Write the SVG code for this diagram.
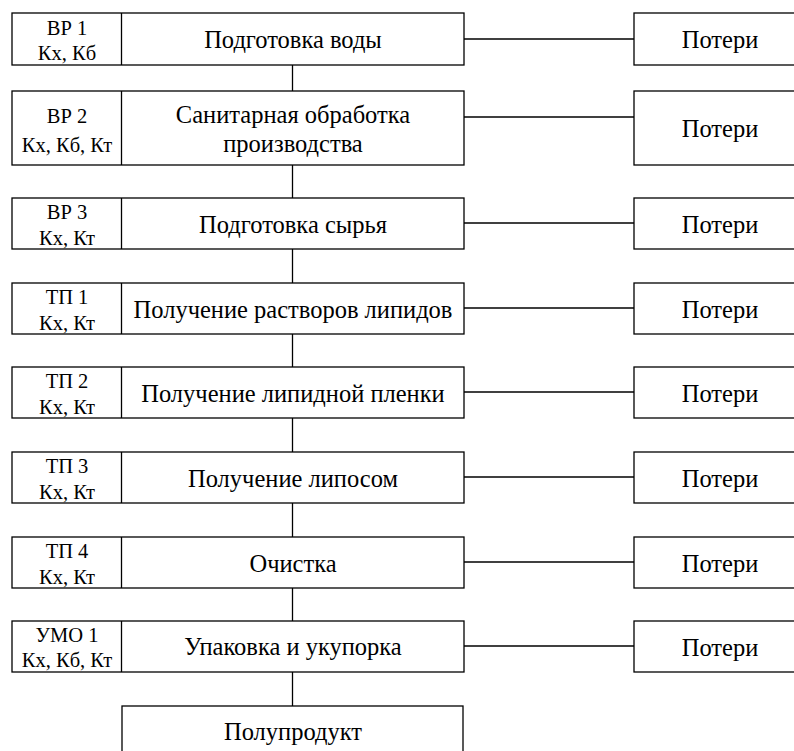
<svg xmlns="http://www.w3.org/2000/svg" width="794" height="751" viewBox="0 0 794 751">
<style>
rect{fill:#fff;stroke:#000;stroke-width:1.3}
line{stroke:#000;stroke-width:1.3}
text{font-family:"Liberation Serif",serif;fill:#000;text-anchor:middle}
.m{font-size:24.5px}
.s{font-size:20.5px}
</style>
<rect x="0" y="0" width="794" height="751" style="stroke:none"/>
<g id="connectors">
<line x1="292.5" y1="65" x2="292.5" y2="91"/>
<line x1="292.5" y1="165" x2="292.5" y2="198"/>
<line x1="292.5" y1="249" x2="292.5" y2="283"/>
<line x1="292.5" y1="334" x2="292.5" y2="367"/>
<line x1="292.5" y1="418" x2="292.5" y2="452"/>
<line x1="292.5" y1="503" x2="292.5" y2="537"/>
<line x1="292.5" y1="588" x2="292.5" y2="621"/>
<line x1="292.5" y1="672" x2="292.5" y2="706"/>
<line x1="464" y1="39" x2="634" y2="39"/>
<line x1="464" y1="117" x2="634" y2="117"/>
<line x1="464" y1="223" x2="634" y2="223"/>
<line x1="464" y1="308" x2="634" y2="308"/>
<line x1="464" y1="392" x2="634" y2="392"/>
<line x1="464" y1="477" x2="634" y2="477"/>
<line x1="464" y1="562" x2="634" y2="562"/>
<line x1="464" y1="646" x2="634" y2="646"/>
</g>
<g id="step1">
<rect x="12" y="13" width="452" height="52"/><line x1="121.5" y1="13" x2="121.5" y2="65"/>
<text class="s" x="67" y="34.5">ВР 1</text><text class="s" x="67" y="60">Кх, Кб</text>
<text class="m" x="293" y="48">Подготовка воды</text>
</g>
<g id="step2">
<rect x="12" y="91" width="452" height="74"/><line x1="121.5" y1="91" x2="121.5" y2="165"/>
<text class="s" x="67" y="123">ВР 2</text><text class="s" x="67" y="152">Кх, Кб, Кт</text>
<text class="m" x="293" y="122.5">Санитарная обработка</text><text class="m" x="293" y="152">производства</text>
</g>
<g id="step3">
<rect x="12" y="198" width="452" height="51"/><line x1="121.5" y1="198" x2="121.5" y2="249"/>
<text class="s" x="67" y="219">ВР 3</text><text class="s" x="67" y="244.5">Кх, Кт</text>
<text class="m" x="293" y="232.5">Подготовка сырья</text>
</g>
<g id="step4">
<rect x="12" y="283" width="452" height="51"/><line x1="121.5" y1="283" x2="121.5" y2="334"/>
<text class="s" x="67" y="304">ТП 1</text><text class="s" x="67" y="329.5">Кх, Кт</text>
<text class="m" x="293" y="317.5">Получение растворов липидов</text>
</g>
<g id="step5">
<rect x="12" y="367" width="452" height="51"/><line x1="121.5" y1="367" x2="121.5" y2="418"/>
<text class="s" x="67" y="388">ТП 2</text><text class="s" x="67" y="413.5">Кх, Кт</text>
<text class="m" x="293" y="401.5">Получение липидной пленки</text>
</g>
<g id="step6">
<rect x="12" y="452" width="452" height="51"/><line x1="121.5" y1="452" x2="121.5" y2="503"/>
<text class="s" x="67" y="473">ТП 3</text><text class="s" x="67" y="498.5">Кх, Кт</text>
<text class="m" x="293" y="486.5">Получение липосом</text>
</g>
<g id="step7">
<rect x="12" y="537" width="452" height="51"/><line x1="121.5" y1="537" x2="121.5" y2="588"/>
<text class="s" x="67" y="558">ТП 4</text><text class="s" x="67" y="583.5">Кх, Кт</text>
<text class="m" x="293" y="571.5">Очистка</text>
</g>
<g id="step8">
<rect x="12" y="621" width="452" height="51"/><line x1="121.5" y1="621" x2="121.5" y2="672"/>
<text class="s" x="67" y="642">УМО 1</text><text class="s" x="67" y="667">Кх, Кб, Кт</text>
<text class="m" x="293" y="655">Упаковка и укупорка</text>
</g>
<g id="product">
<rect x="122" y="706" width="341" height="56"/>
<text class="m" x="293" y="740">Полупродукт</text>
</g>
<g id="loss1"><rect x="634" y="13" width="172" height="52"/><text class="m" x="720" y="48">Потери</text></g>
<g id="loss2"><rect x="634" y="91" width="172" height="74"/><text class="m" x="720" y="137">Потери</text></g>
<g id="loss3"><rect x="634" y="198" width="172" height="51"/><text class="m" x="720" y="232.5">Потери</text></g>
<g id="loss4"><rect x="634" y="283" width="172" height="51"/><text class="m" x="720" y="317.5">Потери</text></g>
<g id="loss5"><rect x="634" y="367" width="172" height="51"/><text class="m" x="720" y="401.5">Потери</text></g>
<g id="loss6"><rect x="634" y="452" width="172" height="51"/><text class="m" x="720" y="486.5">Потери</text></g>
<g id="loss7"><rect x="634" y="537" width="172" height="51"/><text class="m" x="720" y="571.5">Потери</text></g>
<g id="loss8"><rect x="634" y="621" width="172" height="51"/><text class="m" x="720" y="655.5">Потери</text></g>
</svg>
